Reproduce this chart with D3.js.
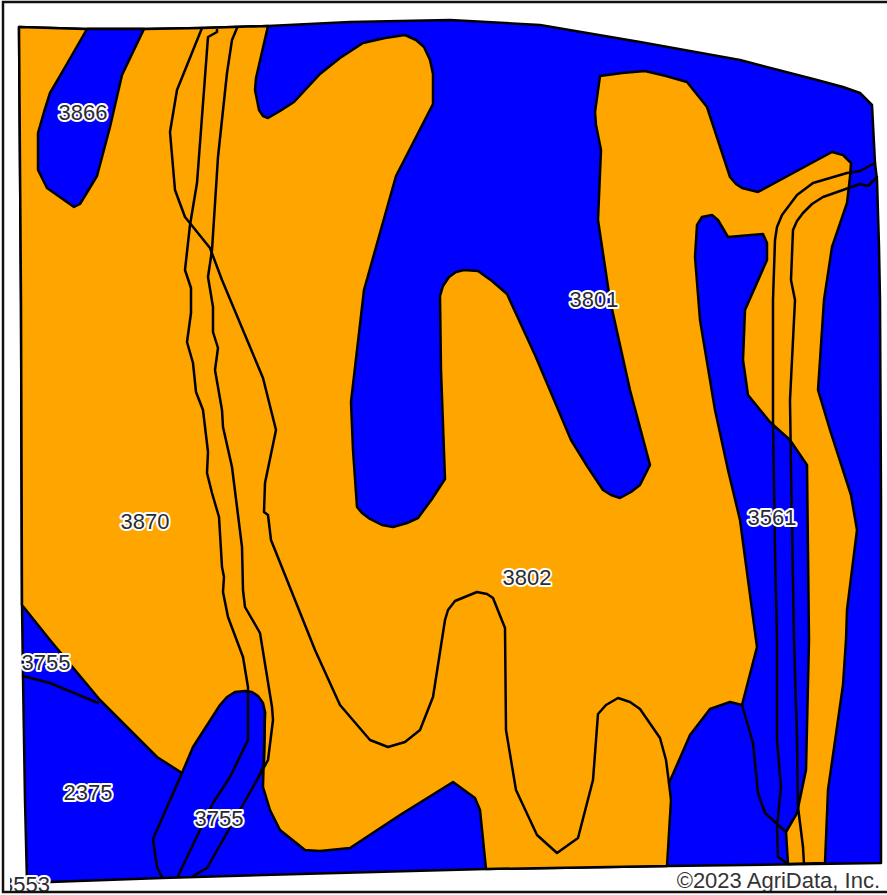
<!DOCTYPE html>
<html>
<head>
<meta charset="utf-8">
<title>Soil map</title>
<script src="https://cdn.jsdelivr.net/npm/d3@7"></script>
<style>
    html, body { margin: 0; padding: 0; background: #fff; }
    svg { display: block; }
</style>
</head>
<body>
<div id="map"></div>
<script>
// map values, as [easting, southing]
const fieldOutline = [[19,27],[85,29],[145,29],[202,28],[268,26],[350,22],[450,20],[540,25],[640,42],[740,60],[817,80],[843,87],[860,93],[872,105],[875,163],[877,180],[879,247],[880,300],[881,500],[881,863],[668,866],[486,869],[300,874],[162,878],[50,882],[27,883],[25,800],[23,677],[22,605],[21,300]];

const orangeMain = [[19,27],[85,29],[145,29],[202,28],[268,26],[256,78],[255,90],[259,110],[263,116],[268,118],[280,111],[294,102],[320,74],[340,58],[363,43],[385,38],[405,35],[416,40],[424,47],[430,60],[433,74],[433,104],[396,176],[378,240],[364,290],[351,402],[353,450],[357,507],[362,513],[370,519],[382,525],[393,527],[407,523],[418,518],[432,499],[445,479],[441,370],[440,296],[443,286],[449,277],[456,272],[464,270],[478,271],[492,281],[507,294],[535,355],[571,440],[587,466],[603,490],[611,495],[620,498],[631,492],[640,485],[650,465],[630,390],[610,300],[598,220],[601,150],[596,125],[595,112],[600,76],[622,73],[645,71],[666,76],[687,82],[707,107],[730,177],[736,184],[742,188],[750,190],[758,192],[795,172],[832,152],[843,155],[851,163],[850,177],[847,203],[832,247],[824,300],[818,390],[830,430],[851,495],[857,530],[847,610],[846,640],[843,685],[828,790],[825,863],[788,864],[786,832],[797,813],[806,770],[809,640],[807,465],[790,440],[770,422],[748,395],[743,360],[745,310],[767,260],[767,243],[763,234],[728,237],[718,220],[712,215],[702,217],[697,225],[695,257],[700,320],[715,410],[728,470],[740,520],[757,647],[742,705],[730,702],[710,709],[690,735],[680,758],[669,783],[671,800],[667,866],[486,869],[480,810],[475,798],[453,782],[400,815],[350,848],[320,851],[305,850],[280,830],[270,810],[263,787],[265,712],[263,703],[258,696],[252,692],[245,691],[235,692],[227,697],[220,705],[193,747],[182,773],[157,757],[100,700],[50,640],[22,605],[21,300]];

const island3866 = [[87,29],[68,62],[50,93],[44,112],[38,133],[38,170],[47,188],[74,207],[80,204],[97,176],[110,127],[122,75],[144,29]];

// soil boundaries drawn as open lines
const lineWest = [[217,30],[217,32],[208,37],[197,183],[190,225],[185,270],[191,288],[191,313],[187,342],[193,363],[196,392],[203,410],[208,452],[207,473],[212,493],[219,517],[222,567],[224,577],[223,592],[228,617],[243,657],[248,687],[248,740],[230,777],[213,803],[178,876]];
const lineMiddle = [[237,28],[232,40],[227,73],[218,157],[212,250],[208,277],[213,307],[213,332],[218,348],[215,370],[222,410],[223,427],[232,467],[242,547],[243,590],[245,607],[260,633],[272,707],[273,720],[268,760],[257,780],[207,868],[193,876]];
const lineEast = [[202,28],[177,90],[170,132],[175,190],[185,217],[210,248],[222,280],[263,378],[276,430],[265,483],[264,512],[268,515],[271,540],[295,600],[315,650],[340,705],[370,740],[388,747],[405,742],[420,730],[433,697],[445,620],[448,610],[455,601],[477,592],[487,594],[493,598],[505,628],[506,730],[516,790],[537,835],[557,853],[578,838],[593,780],[598,714],[606,705],[618,698],[630,702],[640,709],[660,738],[666,760],[669,783]];
const lineBlobWest = [[182,773],[153,839],[157,867],[162,877]];
const lineBlobEast = [[265,712],[264,765],[257,780]];
const lineSplit = [[23,676],[50,683],[98,703]];
const lineBlobSouth = [[742,705],[753,743],[758,793],[765,813],[786,832]];
const lineRiver1 = [[875,163],[860,171],[847,173],[813,183],[797,195],[782,215],[777,227],[775,240],[773,300],[773,420],[775,550],[777,640],[777,740],[781,787],[777,827],[778,857],[788,864]];
const lineRiver2 = [[877,177],[868,186],[860,184],[823,197],[812,204],[803,213],[797,221],[793,230],[791,280],[795,300],[790,400],[791,470],[794,640],[797,740],[798,807],[803,847],[804,864]];

const soilPolygons = [orangeMain, island3866];
const soilFills = ['orange', 'blue'];
const boundaryLines = [lineWest, lineMiddle, lineEast, lineBlobWest, lineBlobEast, lineSplit, lineBlobSouth, lineRiver1, lineRiver2];

const labelCodes = ['3866', '3801', '3870', '3802', '3561', '3755', '2375', '3755', '3553'];
const labelEast = [83, 594, 145, 527, 772, 46, 88, 219, 25.5];
const labelSouth = [112, 299, 521, 577, 517, 662, 792, 818, 884];

const copyrightText = '\u00A92023 AgriData, Inc.';

const width = 887;
const height = 895;

const x = d3.scaleLinear().domain([0, 887]).range([0, width]);
const y = d3.scaleLinear().domain([0, 895]).range([0, height]);

const svg = d3.select('#map')
    .append('svg')
    .attr('width', width)
    .attr('height', height);

// clip for the cut off label at the lower left corner
svg.append('clipPath')
    .attr('id', 'frameClip')
    .append('rect')
    .attr('x', 10)
    .attr('y', 3)
    .attr('width', width)
    .attr('height', 888);

const path = d3.line()
    .x(d => x(d[0]))
    .y(d => y(d[1]));

const closed = d => path(d) + 'Z';

// field, everything starts out blue
svg.append('path')
    .attr('d', closed(fieldOutline))
    .attr('fill', 'blue')
    .attr('stroke', '#000')
    .attr('stroke-width', 2.5)
    .attr('stroke-linejoin', 'round');

svg.selectAll('.soil')
    .data(soilPolygons)
    .enter()
    .append('path')
    .attr('class', 'soil')
    .attr('d', closed)
    .attr('fill', (d, i) => soilFills[i])
    .attr('stroke', '#000')
    .attr('stroke-width', 2.5)
    .attr('stroke-linejoin', 'round');

svg.selectAll('.boundary')
    .data(boundaryLines)
    .enter()
    .append('path')
    .attr('class', 'boundary')
    .attr('d', path)
    .attr('fill', 'none')
    .attr('stroke', '#000')
    .attr('stroke-width', 2.5)
    .attr('stroke-linejoin', 'round')
    .attr('stroke-linecap', 'round');

// labels with white halo
svg.append('g')
    .attr('clip-path', 'url(#frameClip)')
    .selectAll('text')
    .data(labelCodes)
    .enter()
    .append('text')
    .attr('x', (d, i) => x(labelEast[i]))
    .attr('y', (d, i) => y(labelSouth[i]))
    .attr('dy', '0.35em')
    .attr('text-anchor', 'middle')
    .attr('font-family', '"Liberation Sans", Arial, sans-serif')
    .attr('font-size', 22)
    .attr('fill', '#2b2b33')
    .attr('stroke', '#fff')
    .attr('stroke-width', 4)
    .attr('stroke-linejoin', 'round')
    .attr('paint-order', 'stroke')
    .text(d => d);

svg.append('text')
    .attr('x', x(880))
    .attr('y', y(888))
    .attr('text-anchor', 'end')
    .attr('font-family', '"Liberation Sans", Arial, sans-serif')
    .attr('font-size', 22)
    .attr('fill', '#333')
    .text(copyrightText);

// outer frame
svg.append('rect')
    .attr('x', x(3))
    .attr('y', y(2))
    .attr('width', width)
    .attr('height', y(890))
    .attr('fill', 'none')
    .attr('stroke', '#111')
    .attr('stroke-width', 2.5);
</script>
</body>
</html>
